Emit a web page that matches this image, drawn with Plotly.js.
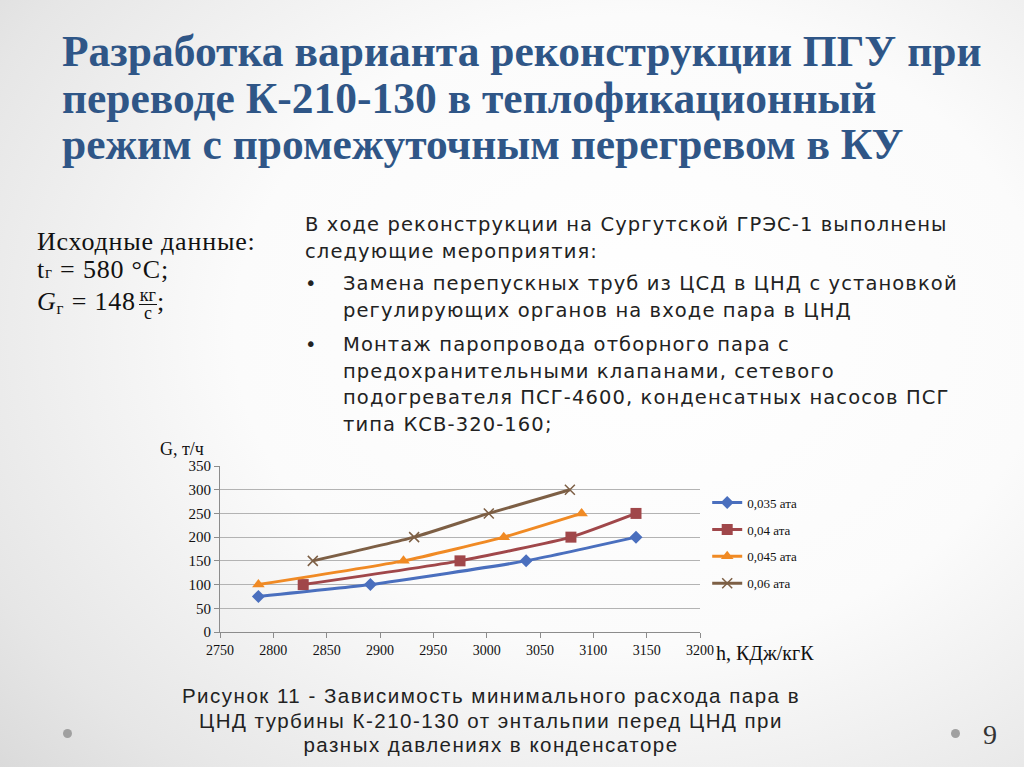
<!DOCTYPE html>
<html><head><meta charset="utf-8">
<script src="https://cdn.plot.ly/plotly-3.0.1.min.js"></script>
<style>
html,body{margin:0;padding:0;width:1024px;height:767px;overflow:hidden;}
body{background:radial-gradient(ellipse 900px 700px at 640px 330px,#ffffff 0%,#fbfbfb 45%,#e6e6e6 80%,#d6d6d6 100%);position:relative;font-family:"Liberation Serif",serif;}
.t{position:absolute;white-space:nowrap;}
#title{left:62px;top:28px;font-family:"Liberation Serif",serif;font-weight:bold;font-size:43.5px;line-height:46.5px;color:#2f5687;}
#left{left:37px;top:228px;font-family:"Liberation Serif",serif;font-size:26px;line-height:28px;color:#111;letter-spacing:0.8px;}
#right{left:305px;top:212px;font-family:"DejaVu Sans",sans-serif;font-size:19.5px;line-height:26.5px;color:#222;letter-spacing:1.1px;}
#cap{left:0;width:982px;top:684px;text-align:center;font-family:"Liberation Sans",sans-serif;font-size:20.5px;line-height:24.5px;color:#222;letter-spacing:1.5px;}
.dot{position:absolute;width:9px;height:9px;border-radius:50%;background:#a0a0a0;}
#chart{position:absolute;left:0;top:0;width:1024px;height:767px;}
.frac{display:inline-block;vertical-align:middle;text-align:center;font-size:18px;line-height:17px;margin-left:3px;letter-spacing:0;}
.frac span{display:block;}
.ind{display:inline-block;width:38px;letter-spacing:0;}
</style></head><body>
<div id="chart"></div>
<div class="t" id="title">Разработка варианта реконструкции ПГУ при<br>переводе К-210-130 в теплофикационный<br>режим с промежуточным перегревом в КУ</div>
<div class="t" id="left">Исходные данные:<br>t<span style="font-size:17px">г</span> = 580 °С;<br><i>G</i><span style="font-size:17px;position:relative;top:4px">г</span> = 148<span class="frac"><span style="border-bottom:1px solid #111;padding:0 1px">кг</span><span>с</span></span>;</div>
<div class="t" id="right">В ходе реконструкции на Сургутской ГРЭС-1 выполнены<br>следующие мероприятия:<br>
<div style="margin-top:6px"><span class="ind">•</span>Замена перепускных труб из ЦСД в ЦНД с установкой<br><span class="ind"></span>регулирующих органов на входе пара в ЦНД</div>
<div style="margin-top:8px"><span class="ind">•</span>Монтаж паропровода отборного пара с<br><span class="ind"></span>предохранительными клапанами, сетевого<br><span class="ind"></span>подогревателя ПСГ-4600, конденсатных насосов ПСГ<br><span class="ind"></span>типа КСВ-320-160;</div></div>
<div class="t" id="cap">Рисунок 11 - Зависимость минимального расхода пара в<br>ЦНД турбины К-210-130 от энтальпии перед ЦНД при<br>разных давлениях в конденсаторе</div>
<div class="dot" style="left:63px;top:729px;"></div>
<div class="dot" style="left:951px;top:729px;"></div>
<div class="t" style="left:983px;top:719px;font-family:'Liberation Serif',serif;font-size:28px;color:#333;">9</div>
<script>
var seriesNames = ["0,035 ата","0,04 ата","0,045 ата","0,06 ата"];
var h035 = [2786, 2891, 3037, 3140];
var g035 = [75, 100, 150, 200];
var h04  = [2828, 2975, 3079, 3140];
var g04  = [100, 150, 200, 250];
var h045 = [2786, 2922, 3016, 3089];
var g045 = [100, 150, 200, 250];
var h06  = [2837, 2932, 3002, 3078];
var g06  = [150, 200, 250, 300];
var xTicks = [2750,2800,2850,2900,2950,3000,3050,3100,3150,3200];
var yTicks = [0,50,100,150,200,250,300,350];

var colors = ["#4a6fbe","#a0474a","#f08a24","#7d5f45"];
var symbols = ["diamond","square","triangle-up","x-thin-open"];
var sizes = [10,11,11,10];
var xs=[h035,h04,h045,h06], ys=[g035,g04,g045,g06];
var traces = xs.map(function(x,i){
  return {x:x,y:ys[i],name:seriesNames[i],type:"scatter",mode:"lines+markers",
    legendgroup:"g"+i,
    line:{color:colors[i],width:3,shape:"spline",smoothing:0.5},
    marker:{symbol:symbols[i],size:sizes[i],color:colors[i],line:{color:colors[i],width:i==3?1.5:0}}};
});
var layout = {
  width:1024,height:767,
  paper_bgcolor:"rgba(0,0,0,0)",plot_bgcolor:"rgba(0,0,0,0)",
  margin:{l:220,r:324,t:466,b:135},
  font:{family:"Liberation Serif, serif",size:13,color:"#111"},
  xaxis:{range:[2750,3200],tickvals:xTicks,ticktext:xTicks.map(String),showgrid:false,zeroline:false,
    showline:true,linecolor:"#8c8c8c",linewidth:1,ticks:"outside",ticklen:5,tickcolor:"#8c8c8c",
    tickfont:{family:"Liberation Serif, serif",size:14,color:"#111"}},
  yaxis:{range:[0,350],tickvals:yTicks,showgrid:true,gridcolor:"#b3b3b3",gridwidth:1,zeroline:false,
    showline:true,linecolor:"#8c8c8c",linewidth:1,ticks:"outside",ticklen:5,tickcolor:"#8c8c8c",
    tickfont:{family:"Liberation Serif, serif",size:15,color:"#111"}},
  showlegend:true,
  legend:{x:1.015,y:0.87,xanchor:"left",yanchor:"top",bgcolor:"rgba(0,0,0,0)",
    font:{family:"Liberation Serif, serif",size:13,color:"#111"},
    traceorder:"grouped",tracegroupgap:7,itemwidth:30},
  annotations:[
    {xref:"paper",yref:"paper",x:-0.13,y:1.03,xanchor:"left",yanchor:"bottom",showarrow:false,
     text:"G, т/ч",font:{family:"Liberation Serif, serif",size:18,color:"#111"}},
    {xref:"paper",yref:"paper",x:1.03,y:-0.05,xanchor:"left",yanchor:"top",showarrow:false,
     text:"h, КДж/кгК",font:{family:"Liberation Serif, serif",size:20,color:"#111"}}
  ]
};
Plotly.newPlot("chart",traces,layout,{displayModeBar:false,staticPlot:true});
</script>
</body></html>
